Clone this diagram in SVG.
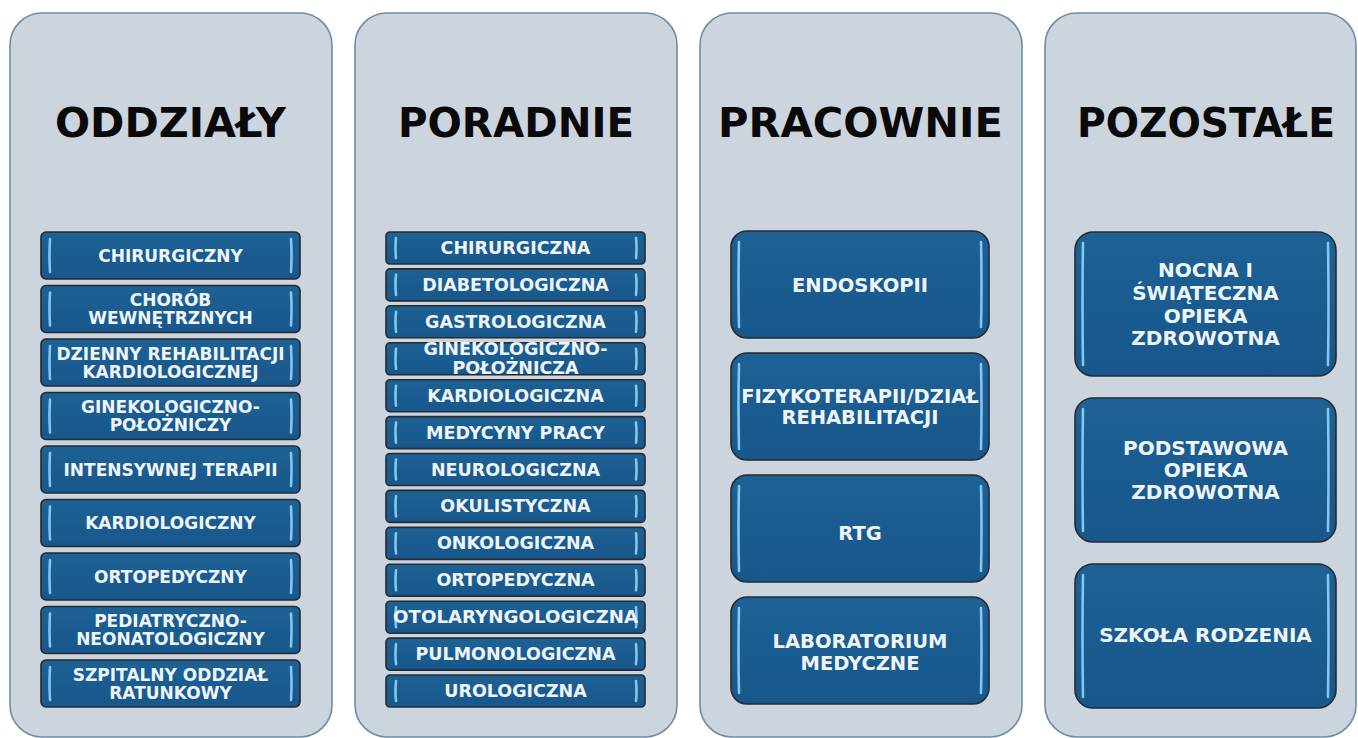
<svg xmlns="http://www.w3.org/2000/svg" width="1358" height="738" viewBox="0 0 1358 738">
<defs>
<linearGradient id="boxg" x1="0" y1="0" x2="0" y2="1">
<stop offset="0" stop-color="#1d6195"/>
<stop offset="1" stop-color="#18578b"/>
</linearGradient>
<style>
.panel{fill:#ccd4de;stroke:#6f8ca5;stroke-width:1.6}
.title{font-family:"DejaVu Sans",sans-serif;font-weight:bold;font-size:41px;fill:#0a0a0a;text-anchor:middle}
.box{fill:url(#boxg);stroke:#262a31;stroke-width:1.6}
.hl{fill:none;stroke:#8acbf2;stroke-width:2.6;stroke-linecap:round;opacity:0.95}
.t{font-family:"DejaVu Sans",sans-serif;font-weight:bold;fill:#eef4fa;text-anchor:middle}
.s1{font-size:17px}
.s2{font-size:17.5px}
.s3{font-size:19.5px}
.s4{font-size:20px}
</style>
</defs>
<rect width="1358" height="738" fill="#ffffff"/>

<g id="panels">
<rect class="panel" x="10" y="13" width="322" height="724" rx="32"/>
<rect class="panel" x="355" y="13" width="322" height="724" rx="32"/>
<rect class="panel" x="700" y="13" width="322" height="724" rx="32"/>
<rect class="panel" x="1045" y="13" width="311" height="724" rx="32"/>
</g>

<g id="titles">
<text class="title" x="170.5" y="137" textLength="231" lengthAdjust="spacingAndGlyphs">ODDZIAŁY</text>
<text class="title" x="516" y="137" textLength="236" lengthAdjust="spacingAndGlyphs">PORADNIE</text>
<text class="title" x="860.5" y="137" textLength="285" lengthAdjust="spacingAndGlyphs">PRACOWNIE</text>
<text class="title" x="1206" y="137" textLength="258" lengthAdjust="spacingAndGlyphs">POZOSTAŁE</text>
</g>

<g id="connectors"/>

<!-- Column 1: ODDZIAŁY -->
<g id="o1"><rect class="box" x="41" y="232" width="259" height="47" rx="5"/><path class="hl" d="M50 239 Q49 255.5 50 272 M291 239 Q292 255.5 291 272"/><text class="t s1" x="170.5" y="261.5">CHIRURGICZNY</text></g>
<g id="o2"><rect class="box" x="41" y="285.5" width="259" height="47" rx="5"/><path class="hl" d="M50 292.5 Q49 309 50 325.5 M291 292.5 Q292 309 291 325.5"/><text class="t s1" x="170.5" y="306">CHORÓB</text><text class="t s1" x="170.5" y="324">WEWNĘTRZNYCH</text></g>
<g id="o3"><rect class="box" x="41" y="339" width="259" height="47" rx="5"/><path class="hl" d="M50 346 Q49 362.5 50 379 M291 346 Q292 362.5 291 379"/><text class="t s1" x="170.5" y="359.5">DZIENNY REHABILITACJI</text><text class="t s1" x="170.5" y="377.5">KARDIOLOGICZNEJ</text></g>
<g id="o4"><rect class="box" x="41" y="392.5" width="259" height="47" rx="5"/><path class="hl" d="M50 399.5 Q49 416 50 432.5 M291 399.5 Q292 416 291 432.5"/><text class="t s1" x="170.5" y="413">GINEKOLOGICZNO-</text><text class="t s1" x="170.5" y="431">POŁOŻNICZY</text></g>
<g id="o5"><rect class="box" x="41" y="446" width="259" height="47" rx="5"/><path class="hl" d="M50 453 Q49 469.5 50 486 M291 453 Q292 469.5 291 486"/><text class="t s1" x="170.5" y="475.5">INTENSYWNEJ TERAPII</text></g>
<g id="o6"><rect class="box" x="41" y="499.5" width="259" height="47" rx="5"/><path class="hl" d="M50 506.5 Q49 523 50 539.5 M291 506.5 Q292 523 291 539.5"/><text class="t s1" x="170.5" y="529">KARDIOLOGICZNY</text></g>
<g id="o7"><rect class="box" x="41" y="553" width="259" height="47" rx="5"/><path class="hl" d="M50 560 Q49 576.5 50 593 M291 560 Q292 576.5 291 593"/><text class="t s1" x="170.5" y="582.5">ORTOPEDYCZNY</text></g>
<g id="o8"><rect class="box" x="41" y="606.5" width="259" height="47" rx="5"/><path class="hl" d="M50 613.5 Q49 630 50 646.5 M291 613.5 Q292 630 291 646.5"/><text class="t s1" x="170.5" y="627">PEDIATRYCZNO-</text><text class="t s1" x="170.5" y="645">NEONATOLOGICZNY</text></g>
<g id="o9"><rect class="box" x="41" y="660" width="259" height="47" rx="5"/><path class="hl" d="M50 667 Q49 683.5 50 700 M291 667 Q292 683.5 291 700"/><text class="t s1" x="170.5" y="680.5">SZPITALNY ODDZIAŁ</text><text class="t s1" x="170.5" y="698.5">RATUNKOWY</text></g>

<!-- Column 2: PORADNIE -->
<g id="p1"><rect class="box" x="386" y="232" width="259" height="32" rx="4"/><path class="hl" d="M396 238 Q395 248 396 258 M636 238 Q637 248 636 258"/><text class="t s2" x="515.5" y="254">CHIRURGICZNA</text></g>
<g id="p2"><rect class="box" x="386" y="268.9" width="259" height="32" rx="4"/><path class="hl" d="M396 274.9 Q395 284.9 396 294.9 M636 274.9 Q637 284.9 636 294.9"/><text class="t s2" x="515.5" y="290.9">DIABETOLOGICZNA</text></g>
<g id="p3"><rect class="box" x="386" y="305.8" width="259" height="32" rx="4"/><path class="hl" d="M396 311.8 Q395 321.8 396 331.8 M636 311.8 Q637 321.8 636 331.8"/><text class="t s2" x="515.5" y="327.8">GASTROLOGICZNA</text></g>
<g id="p4"><rect class="box" x="386" y="342.8" width="259" height="32" rx="4"/><path class="hl" d="M396 348.8 Q395 358.8 396 368.8 M636 348.8 Q637 358.8 636 368.8"/><text class="t s2" x="515.5" y="355">GINEKOLOGICZNO-</text><text class="t s2" x="515.5" y="373.5">POŁOŻNICZA</text></g>
<g id="p5"><rect class="box" x="386" y="379.7" width="259" height="32" rx="4"/><path class="hl" d="M396 385.7 Q395 395.7 396 405.7 M636 385.7 Q637 395.7 636 405.7"/><text class="t s2" x="515.5" y="401.7">KARDIOLOGICZNA</text></g>
<g id="p6"><rect class="box" x="386" y="416.6" width="259" height="32" rx="4"/><path class="hl" d="M396 422.6 Q395 432.6 396 442.6 M636 422.6 Q637 432.6 636 442.6"/><text class="t s2" x="515.5" y="438.6">MEDYCYNY PRACY</text></g>
<g id="p7"><rect class="box" x="386" y="453.5" width="259" height="32" rx="4"/><path class="hl" d="M396 459.5 Q395 469.5 396 479.5 M636 459.5 Q637 469.5 636 479.5"/><text class="t s2" x="515.5" y="475.5">NEUROLOGICZNA</text></g>
<g id="p8"><rect class="box" x="386" y="490.4" width="259" height="32" rx="4"/><path class="hl" d="M396 496.4 Q395 506.4 396 516.4 M636 496.4 Q637 506.4 636 516.4"/><text class="t s2" x="515.5" y="512.4">OKULISTYCZNA</text></g>
<g id="p9"><rect class="box" x="386" y="527.4" width="259" height="32" rx="4"/><path class="hl" d="M396 533.4 Q395 543.4 396 553.4 M636 533.4 Q637 543.4 636 553.4"/><text class="t s2" x="515.5" y="549.4">ONKOLOGICZNA</text></g>
<g id="p10"><rect class="box" x="386" y="564.3" width="259" height="32" rx="4"/><path class="hl" d="M396 570.3 Q395 580.3 396 590.3 M636 570.3 Q637 580.3 636 590.3"/><text class="t s2" x="515.5" y="586.3">ORTOPEDYCZNA</text></g>
<g id="p11"><rect class="box" x="386" y="601.2" width="259" height="32" rx="4"/><path class="hl" d="M396 607.2 Q395 617.2 396 627.2 M636 607.2 Q637 617.2 636 627.2"/><text class="t s2" x="515.5" y="623.2" textLength="245" lengthAdjust="spacingAndGlyphs">OTOLARYNGOLOGICZNA</text></g>
<g id="p12"><rect class="box" x="386" y="638.1" width="259" height="32" rx="4"/><path class="hl" d="M396 644.1 Q395 654.1 396 664.1 M636 644.1 Q637 654.1 636 664.1"/><text class="t s2" x="515.5" y="660.1">PULMONOLOGICZNA</text></g>
<g id="p13"><rect class="box" x="386" y="675" width="259" height="32" rx="4"/><path class="hl" d="M396 681 Q395 691 396 701 M636 681 Q637 691 636 701"/><text class="t s2" x="515.5" y="697">UROLOGICZNA</text></g>

<!-- Column 3: PRACOWNIE -->
<g id="r1"><rect class="box" x="731" y="231" width="258" height="107" rx="16"/><path class="hl" d="M739 242 Q738 284.5 739 327 M981 242 Q982 284.5 981 327"/><text class="t s3" x="860" y="291.5">ENDOSKOPII</text></g>
<g id="r2"><rect class="box" x="731" y="353" width="258" height="107" rx="16"/><path class="hl" d="M739 364 Q738 406.5 739 449 M981 364 Q982 406.5 981 449"/><text class="t s3" x="860" y="403">FIZYKOTERAPII/DZIAŁ</text><text class="t s3" x="860" y="424">REHABILITACJI</text></g>
<g id="r3"><rect class="box" x="731" y="475" width="258" height="107" rx="16"/><path class="hl" d="M739 486 Q738 528.5 739 571 M981 486 Q982 528.5 981 571"/><text class="t s3" x="860" y="540">RTG</text></g>
<g id="r4"><rect class="box" x="731" y="597" width="258" height="107" rx="16"/><path class="hl" d="M739 608 Q738 650.5 739 693 M981 608 Q982 650.5 981 693"/><text class="t s3" x="860" y="647.5">LABORATORIUM</text><text class="t s3" x="860" y="669.5">MEDYCZNE</text></g>

<!-- Column 4: POZOSTAŁE -->
<g id="z1"><rect class="box" x="1075" y="232" width="261" height="144" rx="18"/><path class="hl" d="M1083 243 Q1082 304 1083 365 M1328 243 Q1329 304 1328 365"/><text class="t s4" x="1205.5" y="277">NOCNA I</text><text class="t s4" x="1205.5" y="300">ŚWIĄTECZNA</text><text class="t s4" x="1205.5" y="322.5">OPIEKA</text><text class="t s4" x="1205.5" y="345">ZDROWOTNA</text></g>
<g id="z2"><rect class="box" x="1075" y="398" width="261" height="144" rx="18"/><path class="hl" d="M1083 409 Q1082 470 1083 531 M1328 409 Q1329 470 1328 531"/><text class="t s4" x="1205.5" y="455">PODSTAWOWA</text><text class="t s4" x="1205.5" y="477">OPIEKA</text><text class="t s4" x="1205.5" y="499">ZDROWOTNA</text></g>
<g id="z3"><rect class="box" x="1075" y="564" width="261" height="144" rx="18"/><path class="hl" d="M1083 575 Q1082 636 1083 697 M1328 575 Q1329 636 1328 697"/><text class="t s4" x="1205.5" y="642">SZKOŁA RODZENIA</text></g>
</svg>
